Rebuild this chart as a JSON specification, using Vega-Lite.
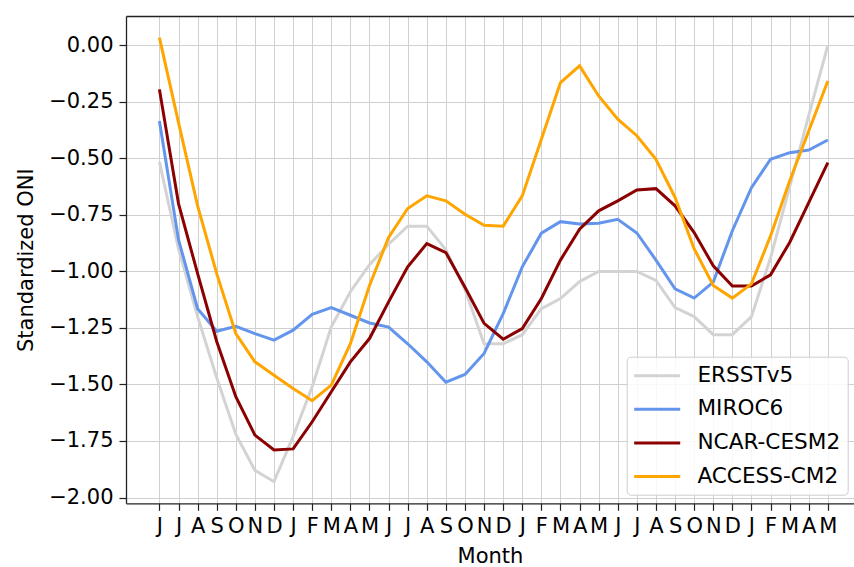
{
  "$schema": "https://vega.github.io/schema/vega-lite/v6.json",
  "width": 728,
  "height": 487.3,
  "autosize": {"type": "none"},
  "padding": {"left": 126, "top": 16, "right": 0, "bottom": 63.7},
  "background": "white",
  "config": {
    "view": {"stroke": null},
    "font": "DejaVu Sans",
    "axis": {
      "labelFont": "DejaVu Sans", "labelFontSize": 21, "labelColor": "#000",
      "titleFont": "DejaVu Sans", "titleFontSize": 21, "titleFontWeight": "normal", "titleColor": "#000",
      "domainColor": "#222", "domainWidth": 1.3, "tickColor": "#222", "tickWidth": 1.2, "tickSize": 7,
      "gridColor": "#d0d0d0", "gridWidth": 1
    },
    "legend": {
      "orient": "none", "legendX": 500.7, "legendY": 340.7,
      "fillColor": "rgba(255,255,255,0.85)", "strokeColor": "#cccccc", "cornerRadius": 4, "padding": 7.5,
      "symbolType": "M-2.3,0H2.3", "symbolSize": 400, "symbolStrokeWidth": 3, "symbolOffset": 11.5,
      "labelFont": "DejaVu Sans", "labelFontSize": 21.6, "labelColor": "#000", "labelOffset": 28.7,
      "rowPadding": 10.6, "labelLimit": 300
    }
  },
  "data": {"values": [
    {"i":0,"model":"ERSSTv5","oni":-0.516},{"i":1,"model":"ERSSTv5","oni":-0.9},{"i":2,"model":"ERSSTv5","oni":-1.2},{"i":3,"model":"ERSSTv5","oni":-1.47},{"i":4,"model":"ERSSTv5","oni":-1.72},{"i":5,"model":"ERSSTv5","oni":-1.88},{"i":6,"model":"ERSSTv5","oni":-1.93},{"i":7,"model":"ERSSTv5","oni":-1.73},{"i":8,"model":"ERSSTv5","oni":-1.51},{"i":9,"model":"ERSSTv5","oni":-1.245},{"i":10,"model":"ERSSTv5","oni":-1.09},{"i":11,"model":"ERSSTv5","oni":-0.97},
    {"i":12,"model":"ERSSTv5","oni":-0.88},{"i":13,"model":"ERSSTv5","oni":-0.8},{"i":14,"model":"ERSSTv5","oni":-0.8},{"i":15,"model":"ERSSTv5","oni":-0.905},{"i":16,"model":"ERSSTv5","oni":-1.08},{"i":17,"model":"ERSSTv5","oni":-1.32},{"i":18,"model":"ERSSTv5","oni":-1.32},{"i":19,"model":"ERSSTv5","oni":-1.28},{"i":20,"model":"ERSSTv5","oni":-1.165},{"i":21,"model":"ERSSTv5","oni":-1.12},{"i":22,"model":"ERSSTv5","oni":-1.045},{"i":23,"model":"ERSSTv5","oni":-1.0},
    {"i":24,"model":"ERSSTv5","oni":-1.0},{"i":25,"model":"ERSSTv5","oni":-1.0},{"i":26,"model":"ERSSTv5","oni":-1.04},{"i":27,"model":"ERSSTv5","oni":-1.16},{"i":28,"model":"ERSSTv5","oni":-1.2},{"i":29,"model":"ERSSTv5","oni":-1.28},{"i":30,"model":"ERSSTv5","oni":-1.28},{"i":31,"model":"ERSSTv5","oni":-1.2},{"i":32,"model":"ERSSTv5","oni":-0.94},{"i":33,"model":"ERSSTv5","oni":-0.626},{"i":34,"model":"ERSSTv5","oni":-0.31},{"i":35,"model":"ERSSTv5","oni":0.0},
    {"i":0,"model":"MIROC6","oni":-0.335},{"i":1,"model":"MIROC6","oni":-0.86},{"i":2,"model":"MIROC6","oni":-1.165},{"i":3,"model":"MIROC6","oni":-1.265},{"i":4,"model":"MIROC6","oni":-1.243},{"i":5,"model":"MIROC6","oni":-1.275},{"i":6,"model":"MIROC6","oni":-1.304},{"i":7,"model":"MIROC6","oni":-1.26},{"i":8,"model":"MIROC6","oni":-1.19},{"i":9,"model":"MIROC6","oni":-1.16},{"i":10,"model":"MIROC6","oni":-1.194},{"i":11,"model":"MIROC6","oni":-1.228},
    {"i":12,"model":"MIROC6","oni":-1.246},{"i":13,"model":"MIROC6","oni":-1.32},{"i":14,"model":"MIROC6","oni":-1.4},{"i":15,"model":"MIROC6","oni":-1.49},{"i":16,"model":"MIROC6","oni":-1.456},{"i":17,"model":"MIROC6","oni":-1.363},{"i":18,"model":"MIROC6","oni":-1.187},{"i":19,"model":"MIROC6","oni":-0.98},{"i":20,"model":"MIROC6","oni":-0.831},{"i":21,"model":"MIROC6","oni":-0.78},{"i":22,"model":"MIROC6","oni":-0.79},{"i":23,"model":"MIROC6","oni":-0.787},
    {"i":24,"model":"MIROC6","oni":-0.77},{"i":25,"model":"MIROC6","oni":-0.83},{"i":26,"model":"MIROC6","oni":-0.95},{"i":27,"model":"MIROC6","oni":-1.077},{"i":28,"model":"MIROC6","oni":-1.118},{"i":29,"model":"MIROC6","oni":-1.047},{"i":30,"model":"MIROC6","oni":-0.82},{"i":31,"model":"MIROC6","oni":-0.63},{"i":32,"model":"MIROC6","oni":-0.504},{"i":33,"model":"MIROC6","oni":-0.475},{"i":34,"model":"MIROC6","oni":-0.463},{"i":35,"model":"MIROC6","oni":-0.419},
    {"i":0,"model":"NCAR-CESM2","oni":-0.195},{"i":1,"model":"NCAR-CESM2","oni":-0.7},{"i":2,"model":"NCAR-CESM2","oni":-1.01},{"i":3,"model":"NCAR-CESM2","oni":-1.31},{"i":4,"model":"NCAR-CESM2","oni":-1.554},{"i":5,"model":"NCAR-CESM2","oni":-1.724},{"i":6,"model":"NCAR-CESM2","oni":-1.79},{"i":7,"model":"NCAR-CESM2","oni":-1.785},{"i":8,"model":"NCAR-CESM2","oni":-1.665},{"i":9,"model":"NCAR-CESM2","oni":-1.532},{"i":10,"model":"NCAR-CESM2","oni":-1.4},{"i":11,"model":"NCAR-CESM2","oni":-1.297},
    {"i":12,"model":"NCAR-CESM2","oni":-1.135},{"i":13,"model":"NCAR-CESM2","oni":-0.98},{"i":14,"model":"NCAR-CESM2","oni":-0.877},{"i":15,"model":"NCAR-CESM2","oni":-0.917},{"i":16,"model":"NCAR-CESM2","oni":-1.07},{"i":17,"model":"NCAR-CESM2","oni":-1.23},{"i":18,"model":"NCAR-CESM2","oni":-1.3},{"i":19,"model":"NCAR-CESM2","oni":-1.253},{"i":20,"model":"NCAR-CESM2","oni":-1.12},{"i":21,"model":"NCAR-CESM2","oni":-0.95},{"i":22,"model":"NCAR-CESM2","oni":-0.813},{"i":23,"model":"NCAR-CESM2","oni":-0.732},
    {"i":24,"model":"NCAR-CESM2","oni":-0.688},{"i":25,"model":"NCAR-CESM2","oni":-0.64},{"i":26,"model":"NCAR-CESM2","oni":-0.634},{"i":27,"model":"NCAR-CESM2","oni":-0.71},{"i":28,"model":"NCAR-CESM2","oni":-0.828},{"i":29,"model":"NCAR-CESM2","oni":-0.975},{"i":30,"model":"NCAR-CESM2","oni":-1.065},{"i":31,"model":"NCAR-CESM2","oni":-1.065},{"i":32,"model":"NCAR-CESM2","oni":-1.015},{"i":33,"model":"NCAR-CESM2","oni":-0.872},{"i":34,"model":"NCAR-CESM2","oni":-0.696},{"i":35,"model":"NCAR-CESM2","oni":-0.519},
    {"i":0,"model":"ACCESS-CM2","oni":0.034},{"i":1,"model":"ACCESS-CM2","oni":-0.342},{"i":2,"model":"ACCESS-CM2","oni":-0.71},{"i":3,"model":"ACCESS-CM2","oni":-1.01},{"i":4,"model":"ACCESS-CM2","oni":-1.275},{"i":5,"model":"ACCESS-CM2","oni":-1.4},{"i":6,"model":"ACCESS-CM2","oni":-1.459},{"i":7,"model":"ACCESS-CM2","oni":-1.518},{"i":8,"model":"ACCESS-CM2","oni":-1.572},{"i":9,"model":"ACCESS-CM2","oni":-1.503},{"i":10,"model":"ACCESS-CM2","oni":-1.32},{"i":11,"model":"ACCESS-CM2","oni":-1.062},
    {"i":12,"model":"ACCESS-CM2","oni":-0.85},{"i":13,"model":"ACCESS-CM2","oni":-0.722},{"i":14,"model":"ACCESS-CM2","oni":-0.666},{"i":15,"model":"ACCESS-CM2","oni":-0.688},{"i":16,"model":"ACCESS-CM2","oni":-0.747},{"i":17,"model":"ACCESS-CM2","oni":-0.796},{"i":18,"model":"ACCESS-CM2","oni":-0.8},{"i":19,"model":"ACCESS-CM2","oni":-0.666},{"i":20,"model":"ACCESS-CM2","oni":-0.416},{"i":21,"model":"ACCESS-CM2","oni":-0.165},{"i":22,"model":"ACCESS-CM2","oni":-0.091},{"i":23,"model":"ACCESS-CM2","oni":-0.224},
    {"i":24,"model":"ACCESS-CM2","oni":-0.327},{"i":25,"model":"ACCESS-CM2","oni":-0.4},{"i":26,"model":"ACCESS-CM2","oni":-0.504},{"i":27,"model":"ACCESS-CM2","oni":-0.673},{"i":28,"model":"ACCESS-CM2","oni":-0.9},{"i":29,"model":"ACCESS-CM2","oni":-1.062},{"i":30,"model":"ACCESS-CM2","oni":-1.118},{"i":31,"model":"ACCESS-CM2","oni":-1.055},{"i":32,"model":"ACCESS-CM2","oni":-0.843},{"i":33,"model":"ACCESS-CM2","oni":-0.6},{"i":34,"model":"ACCESS-CM2","oni":-0.379},{"i":35,"model":"ACCESS-CM2","oni":-0.158}
  ]},
  "resolve": {"axis": {"x": "independent"}},
  "layer": [
    {
      "mark": {"type": "line", "strokeWidth": 3},
      "encoding": {
        "x": {
          "field": "i", "type": "quantitative",
          "scale": {"domain": [-1.75, 36.37], "nice": false, "zero": false},
          "axis": {
            "values": [0,1,2,3,4,5,6,7,8,9,10,11,12,13,14,15,16,17,18,19,20,21,22,23,24,25,26,27,28,29,30,31,32,33,34,35],
            "labelExpr": "['J','J','A','S','O','N','D','J','F','M','A','M'][datum.value % 12]",
            "labelOverlap": false, "labelFlush": false, "labelPadding": 5,
            "title": "Month", "titlePadding": 9, "grid": true
          }
        },
        "y": {
          "field": "oni", "type": "quantitative",
          "scale": {"domain": [-2.0256, 0.1295], "nice": false, "zero": false},
          "axis": {
            "values": [-2, -1.75, -1.5, -1.25, -1, -0.75, -0.5, -0.25, 0],
            "format": ".2f", "labelPadding": 6, "labelOverlap": false, "labelFlush": false,
            "title": "Standardized ONI", "titlePadding": 12, "grid": true
          }
        },
        "color": {
          "field": "model", "type": "nominal",
          "scale": {"domain": ["ERSSTv5", "MIROC6", "NCAR-CESM2", "ACCESS-CM2"], "range": ["#d3d3d3", "#6495ed", "#8b0000", "#ffa500"]},
          "legend": {"title": null}
        }
      }
    },
    {
      "mark": {"type": "tick", "opacity": 0},
      "encoding": {
        "x": {
          "field": "i", "type": "quantitative",
          "axis": {"orient": "top", "labels": false, "ticks": false, "grid": false, "title": null, "domain": true}
        }
      }
    }
  ]
}
